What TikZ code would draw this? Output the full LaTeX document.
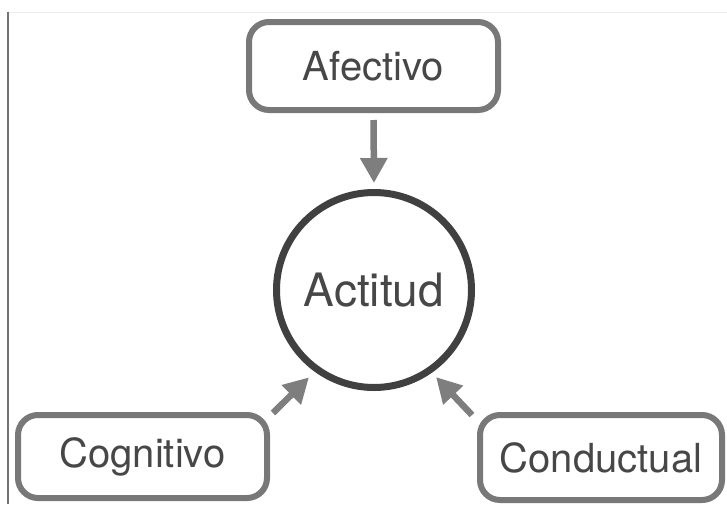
\documentclass[tikz,border=0pt]{standalone}
\usepackage{fontspec}
\setmainfont{TeX Gyre Heros}
\usetikzlibrary{arrows.meta}
\definecolor{boxgray}{HTML}{787878}
\definecolor{arrgray}{HTML}{7E7E7E}
\definecolor{circgray}{HTML}{404040}
\definecolor{txtgray}{HTML}{474747}
\tikzset{
  labbox/.style={draw=boxgray, line width=6pt, rounded corners=20pt, fill=white,
    text=txtgray, font=\fontsize{40}{44}\selectfont, inner sep=0pt},
  arr/.style={draw=arrgray, line width=6.5pt, -{Triangle[length=25pt,width=26pt]}},
}
\begin{document}
\begin{tikzpicture}[x=1pt,y=-1pt]
\useasboundingbox (0,0) rectangle (727,504);
\fill[white] (0,0) rectangle (727,504);
\draw[color=black!7, line width=0.8pt] (8,12) -- (727,12);
\draw[color=black!55, line width=1.6pt] (8,12) -- (8,504);

\node[draw=circgray, line width=7pt, circle, minimum size=195pt, inner sep=0pt,
  text=txtgray, font=\fontsize{46}{50}\selectfont] (act) at (374,290) {Actitud};

\node[labbox, minimum width=249pt, minimum height=88pt] (aff) at (373.5,66) {Afectivo};
\node[labbox, minimum width=249pt, minimum height=83pt] (cog) at (142.5,456.5) {Cognitivo};
\node[labbox, minimum width=242pt, minimum height=85pt] (cond) at (601,457.5) {Conductual};

\draw[arr, shorten <=7pt, shorten >=6pt] (aff.south) -- (act.north);
\draw[arr, shorten >=8pt] ([shift={(3,1)}]cog.north east) -- (act.234);
\draw[arr, shorten >=6pt] ([shift={(-5,3)}]cond.north west) -- (act.305);
\end{tikzpicture}
\end{document}
